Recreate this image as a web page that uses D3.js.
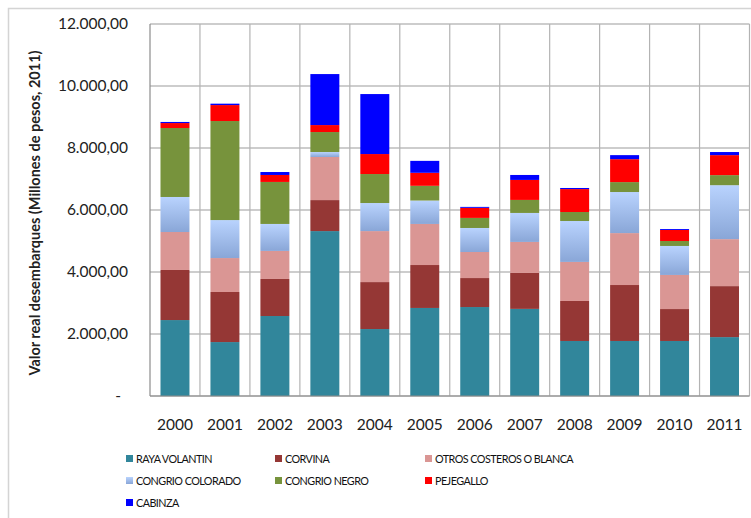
<!DOCTYPE html>
<html>
<head>
<meta charset="utf-8">
<script src="https://cdn.jsdelivr.net/npm/d3@7"></script>
<style>
  html, body { margin: 0; padding: 0; background: #fff; }
  svg { display: block; }
</style>
</head>
<body>
<svg id="chart" width="751" height="518"></svg>
<script>
const years = ["2000","2001","2002","2003","2004","2005","2006","2007","2008","2009","2010","2011"];
const seriesNames = ["RAYA VOLANTIN","CORVINA","OTROS COSTEROS O BLANCA","CONGRIO COLORADO","CONGRIO NEGRO","PEJEGALLO","CABINZA"];
const rayaVolantin   = [2450, 1740, 2580, 5320, 2160, 2840, 2870, 2810, 1775, 1775, 1775, 1900];
const corvina        = [1615, 1615, 1195, 1000, 1515, 1385,  935, 1160, 1290, 1805, 1030, 1645];
const otrosCosteros  = [1225, 1095,  905, 1390, 1645, 1325,  840, 1000, 1260, 1675, 1100, 1515];
const congrioColorado= [1130, 1225,  870,  160,  905,  755,  775,  935, 1320, 1325,  935, 1740];
const congrioNegro   = [2225, 3195, 1355,  645,  935,  475,  325,  420,  290,  320,  160,  325];
const pejegallo      = [ 160,  515,  225,  225,  645,  420,  325,  645,  740,  740,  355,  645];
const cabinza        = [  35,   45,   95, 1645, 1935,  385,   30,  160,   35,  130,   30,  100];
const yTicks = [0, 2000, 4000, 6000, 8000, 10000, 12000];

const seriesValues = [rayaVolantin, corvina, otrosCosteros, congrioColorado, congrioNegro, pejegallo, cabinza];
const colors = ["#31869b", "#953735", "#da9694", "url(#gradCC)", "#77933c", "#ff0000", "#0000ff"];

const svg = d3.select("#chart");
const defs = svg.append("defs");
const gr = defs.append("linearGradient").attr("id", "gradCC").attr("x1", 0).attr("y1", 0).attr("x2", 0).attr("y2", 1);
gr.append("stop").attr("offset", "0%").attr("stop-color", "#b9d3fe");
gr.append("stop").attr("offset", "100%").attr("stop-color", "#89a6d7");

// outer frame
svg.append("rect").attr("x", 8.5).attr("y", 8.5).attr("width", 760).attr("height", 540)
  .attr("fill", "none").attr("stroke", "#d4d4d4").attr("stroke-width", 1.5);

const pLeft = 150, pRight = 749.5, pTop = 24, pBottom = 396;
const x = d3.scaleBand().domain(years).range([pLeft, pRight]).paddingInner(0.42).paddingOuter(0.21);
const xb = d3.scaleBand().domain(years).range([pLeft, pRight]);
const y = d3.scaleLinear().domain([0, 12000]).range([pBottom, pTop]);

// horizontal gridlines
svg.append("g").selectAll("line").data(yTicks).join("line")
  .attr("x1", pLeft).attr("x2", pRight)
  .attr("y1", d => y(d)).attr("y2", d => y(d))
  .attr("stroke", "#9b9b9b").attr("stroke-width", 1.2);

// vertical gridlines
const vLines = years.slice(1).map(d => xb(d)).concat([pRight]);
svg.append("g").selectAll("line").data(vLines).join("line")
  .attr("x1", d => d).attr("x2", d => d)
  .attr("y1", pTop).attr("y2", pBottom)
  .attr("stroke", "#b3b3b3").attr("stroke-width", 1.2);

// stacked data
const table = years.map((yr, i) => {
  const o = { year: yr };
  seriesNames.forEach((s, j) => o[s] = seriesValues[j][i]);
  return o;
});
const stacked = d3.stack().keys(seriesNames)(table);

svg.append("g").selectAll("g").data(stacked).join("g")
  .attr("fill", (d, i) => colors[i])
  .selectAll("rect").data(d => d).join("rect")
  .attr("x", d => x(d.data.year))
  .attr("width", x.bandwidth())
  .attr("y", d => y(d[1]))
  .attr("height", d => y(d[0]) - y(d[1]));

// axis lines
svg.append("line").attr("x1", pLeft).attr("x2", pLeft).attr("y1", pTop).attr("y2", pBottom)
  .attr("stroke", "#8c8c8c").attr("stroke-width", 1.2);
svg.append("line").attr("x1", pLeft).attr("x2", pRight).attr("y1", pBottom).attr("y2", pBottom)
  .attr("stroke", "#8c8c8c").attr("stroke-width", 1.2);

// y tick labels
const locale = d3.formatLocale({decimal: ",", thousands: ".", grouping: [3], currency: ["", ""]});
const fmt = v => v === 0 ? "-" : locale.format(",.2f")(v);
svg.append("g").selectAll("text").data(yTicks).join("text")
  .attr("x", d => d === 0 ? 121 : 128)
  .attr("y", d => y(d) + 5)
  .attr("text-anchor", "end")
  .attr("font-family", "Lato, 'Open Sans', sans-serif")
  .attr("font-size", 15.5)
  .attr("fill", "#222")
  .text(fmt);

// x labels
svg.append("g").selectAll("text").data(years).join("text")
  .attr("x", d => xb(d) + xb.bandwidth() / 2)
  .attr("y", 430)
  .attr("text-anchor", "middle")
  .attr("font-family", "Lato, 'Open Sans', sans-serif")
  .attr("font-size", 15.5)
  .attr("fill", "#222")
  .text(d => d);

// y title
svg.append("text")
  .attr("transform", "translate(40,213) rotate(-90)")
  .attr("text-anchor", "middle")
  .attr("font-family", "Lato, 'Open Sans', sans-serif")
  .attr("font-weight", "bold")
  .attr("font-size", 14.5)
  .attr("fill", "#222")
  .text("Valor real desembarques (Millones de pesos, 2011)");

// legend
const legX = [126, 275, 425];
const legY = [459, 481, 503];
const leg = svg.append("g").selectAll("g").data(seriesNames).join("g")
  .attr("transform", (d, i) => `translate(${legX[i % 3]},${legY[Math.floor(i / 3)]})`);
leg.append("rect").attr("x", 0).attr("y", -4).attr("width", 7).attr("height", 7)
  .attr("fill", (d, i) => colors[i]);
leg.append("text").attr("x", 10).attr("y", 4)
  .attr("font-family", "Lato, 'Open Sans', sans-serif")
  .attr("font-size", 10.8)
  .attr("letter-spacing", -0.55)
  .attr("fill", "#111")
  .text(d => d);
</script>
</body>
</html>
